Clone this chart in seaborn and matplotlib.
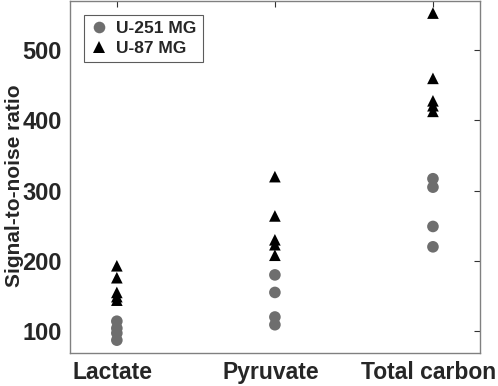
import numpy as np
import pandas as pd
import seaborn as sns
import matplotlib
matplotlib.use("Agg")
import matplotlib.pyplot as plt
import matplotlib.transforms as mtransforms

categories = ["Lactate", "Pyruvate", "Total carbon"]

# signal-to-noise values
u251_lactate = [114, 104, 97, 87]
u251_pyruvate = [180, 155, 120, 109]
u251_total = [317, 305, 249, 220]

u87_lactate = [193, 176, 155, 149, 144]
u87_pyruvate = [320, 264, 230, 223, 208]
u87_total = [553, 460, 428, 421, 413]

rows = []
for cat, vals in zip(categories, [u251_lactate, u251_pyruvate, u251_total]):
    for v in vals:
        rows.append((cat, v, "U-251 MG"))
for cat, vals in zip(categories, [u87_lactate, u87_pyruvate, u87_total]):
    for v in vals:
        rows.append((cat, v, "U-87 MG"))
df = pd.DataFrame(rows, columns=["metabolite", "snr", "cell line"])

sns.set_style("white")
plt.rcParams['font.family'] = ['Liberation Sans', 'DejaVu Sans']
plt.rcParams['font.weight'] = 'bold'

fig = plt.figure(figsize=(4.98, 3.86), dpi=100)
ax = fig.add_axes([0.141, 0.086, 0.822, 0.911])

sns.scatterplot(data=df, x="metabolite", y="snr", hue="cell line", style="cell line",
                palette={"U-251 MG": "#6e6e6e", "U-87 MG": "black"},
                markers={"U-251 MG": "o", "U-87 MG": "^"},
                s=70, linewidth=0, ax=ax)

ax.set_xlim(-0.295, 2.295)
ax.set_ylim(69, 570)
ax.set_yticks([100, 200, 300, 400, 500])
ax.set_xlabel("")
ax.set_ylabel("Signal-to-noise ratio", fontsize=15, fontweight="bold")
ax.yaxis.set_label_coords(-0.112, 0.474)
ax.tick_params(direction="in", length=4, width=0.8, top=True, right=True,
               color="#333333", pad=6)
ax.tick_params(axis="y", labelsize=17)
ax.tick_params(axis="x", labelsize=16.5)
shift = mtransforms.ScaledTranslation(-4 / 100, 0, fig.dpi_scale_trans)
for lab in ax.get_xticklabels():
    lab.set_fontweight("bold")
    lab.set_transform(lab.get_transform() + shift)
for lab in ax.get_yticklabels():
    lab.set_fontweight("bold")
for sp in ax.spines.values():
    sp.set_color("#808080")
    sp.set_linewidth(1.0)

leg = ax.legend(loc="upper left", bbox_to_anchor=(0.034, 0.962), frameon=True,
                fancybox=False, edgecolor="#333333", borderaxespad=0,
                prop={"weight": "bold", "size": 12.5}, handletextpad=0.5,
                handlelength=1.0, borderpad=0.35, labelspacing=0.3)
leg.get_frame().set_linewidth(0.8)

fig.savefig("out.png", dpi=100)
